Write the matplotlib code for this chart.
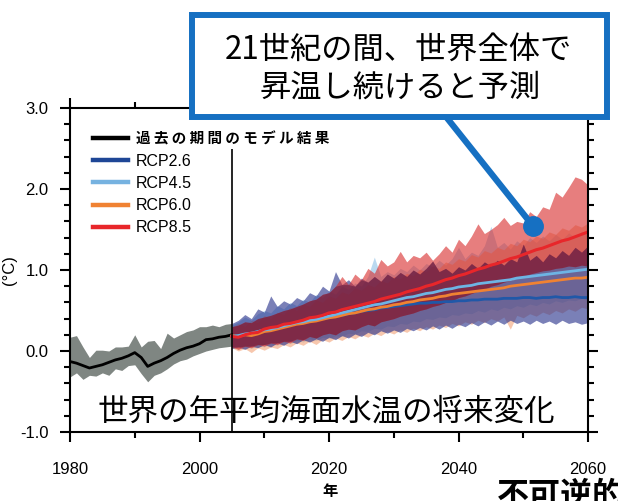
import matplotlib
matplotlib.use('Agg')
import matplotlib.pyplot as plt
import numpy as np
from matplotlib.lines import Line2D
from matplotlib.patches import Rectangle
from matplotlib.ticker import MultipleLocator, FormatStrFormatter
from matplotlib.font_manager import FontProperties

plt.rcParams['font.family'] = ['Liberation Sans', 'Noto Sans CJK JP', 'DejaVu Sans']
JP = ['Noto Sans CJK JP', 'DejaVu Sans']

# 過去の期間（モデル結果）
hist_years = list(range(1980, 2006))
hist_mean = [-0.13, -0.15, -0.18, -0.21, -0.19, -0.17, -0.14, -0.11, -0.09, -0.06,
             -0.02, -0.08, -0.19, -0.15, -0.12, -0.08, -0.03, 0.01, 0.04, 0.06,
             0.09, 0.14, 0.15, 0.17, 0.18, 0.20]
hist_high = [0.17, 0.19, 0.05, -0.08, 0.01, 0.01, 0.00, 0.05, 0.05, 0.06,
             0.20, 0.05, 0.12, 0.13, 0.03, 0.22, 0.16, 0.20, 0.24, 0.26,
             0.30, 0.30, 0.32, 0.30, 0.33, 0.34]
hist_low = [-0.32, -0.27, -0.35, -0.30, -0.31, -0.27, -0.30, -0.22, -0.24, -0.18,
            -0.17, -0.28, -0.38, -0.30, -0.27, -0.22, -0.16, -0.12, -0.10, -0.06,
            -0.03, 0.00, 0.02, 0.04, 0.05, 0.06]

# 将来予測 2005-2060
proj_years = list(range(2005, 2061))

rcp26_mean = [0.18, 0.19, 0.20, 0.22, 0.24, 0.26, 0.27, 0.29, 0.31, 0.32,
              0.34, 0.35, 0.37, 0.38, 0.40, 0.41, 0.43, 0.44, 0.46, 0.47,
              0.49, 0.50, 0.51, 0.53, 0.54, 0.55, 0.56, 0.57, 0.58, 0.59,
              0.59, 0.60, 0.60, 0.61, 0.61, 0.62, 0.62, 0.63, 0.63, 0.64,
              0.64, 0.64, 0.65, 0.65, 0.65, 0.66, 0.66, 0.65, 0.66, 0.66,
              0.67, 0.66, 0.66, 0.67, 0.66, 0.66]
rcp26_high = [0.34, 0.38, 0.45, 0.40, 0.52, 0.48, 0.68, 0.55, 0.62, 0.58,
              0.66, 0.62, 0.72, 0.68, 0.80, 0.74, 0.98, 0.82, 0.88, 0.80,
              0.90, 0.85, 0.92, 0.86, 0.95, 0.90, 0.97, 0.92, 1.00, 0.95,
              1.02, 1.11, 0.98, 1.02, 0.96, 1.04, 1.00, 1.08, 1.02, 1.10,
              1.05, 1.12, 1.06, 1.14, 1.10, 1.32, 1.12, 1.18, 1.10, 1.20,
              1.15, 1.24, 1.18, 1.28, 1.22, 1.30]
rcp26_low = [0.03, 0.05, 0.02, 0.06, 0.04, 0.08, 0.05, 0.10, 0.07, 0.12,
             0.09, 0.14, 0.11, 0.15, 0.12, 0.17, 0.14, 0.19, 0.16, 0.21,
             0.18, 0.23, 0.20, 0.25, 0.22, 0.26, 0.23, 0.28, 0.25, 0.29,
             0.26, 0.31, 0.27, 0.32, 0.28, 0.33, 0.30, 0.35, 0.31, 0.36,
             0.32, 0.37, 0.33, 0.38, 0.34, 0.37, 0.33, 0.38, 0.34, 0.37,
             0.33, 0.38, 0.34, 0.36, 0.33, 0.35]

rcp45_mean = [0.18, 0.19, 0.21, 0.22, 0.24, 0.26, 0.27, 0.29, 0.31, 0.33,
              0.35, 0.36, 0.38, 0.39, 0.41, 0.43, 0.45, 0.47, 0.49, 0.51,
              0.53, 0.55, 0.57, 0.58, 0.60, 0.62, 0.64, 0.66, 0.67, 0.69,
              0.71, 0.72, 0.74, 0.76, 0.77, 0.79, 0.80, 0.81, 0.83, 0.84,
              0.85, 0.86, 0.87, 0.88, 0.90, 0.91, 0.92, 0.93, 0.94, 0.95,
              0.96, 0.97, 0.98, 0.99, 1.00, 1.01]
rcp45_high = [0.32, 0.36, 0.42, 0.38, 0.46, 0.50, 0.47, 0.56, 0.52, 0.60,
              0.56, 0.64, 0.60, 0.70, 0.66, 0.74, 0.70, 0.80, 0.76, 0.84,
              0.80, 0.92, 1.16, 0.92, 0.98, 0.94, 1.02, 0.98, 1.06, 1.00,
              1.08, 1.04, 1.12, 1.06, 1.14, 1.28, 1.14, 1.22, 1.18, 1.30,
              1.54, 1.28, 1.34, 1.26, 1.36, 1.30, 1.40, 1.34, 1.42, 1.36,
              1.44, 1.38, 1.46, 1.40, 1.48, 1.44]
rcp45_low = [0.05, 0.02, 0.06, 0.03, 0.07, 0.05, 0.09, 0.07, 0.11, 0.09,
             0.13, 0.11, 0.15, 0.13, 0.17, 0.15, 0.19, 0.18, 0.22, 0.21,
             0.25, 0.24, 0.28, 0.27, 0.31, 0.30, 0.34, 0.33, 0.37, 0.36,
             0.40, 0.39, 0.42, 0.41, 0.45, 0.44, 0.47, 0.46, 0.50, 0.48,
             0.52, 0.50, 0.54, 0.52, 0.56, 0.54, 0.58, 0.56, 0.60, 0.58,
             0.62, 0.60, 0.63, 0.62, 0.65, 0.63]

rcp60_mean = [0.19, 0.18, 0.20, 0.19, 0.21, 0.24, 0.25, 0.27, 0.29, 0.31,
              0.33, 0.34, 0.36, 0.37, 0.39, 0.41, 0.42, 0.44, 0.46, 0.47,
              0.49, 0.51, 0.52, 0.54, 0.55, 0.57, 0.58, 0.60, 0.61, 0.63,
              0.64, 0.65, 0.67, 0.68, 0.70, 0.71, 0.72, 0.73, 0.74, 0.75,
              0.76, 0.77, 0.78, 0.80, 0.81, 0.82, 0.83, 0.84, 0.85, 0.86,
              0.87, 0.88, 0.89, 0.90, 0.90, 0.91]
rcp60_high = [0.30, 0.34, 0.30, 0.38, 0.35, 0.44, 0.40, 0.48, 0.45, 0.54,
              0.50, 0.58, 0.55, 0.63, 0.60, 0.68, 0.65, 0.73, 0.70, 0.78,
              0.75, 0.82, 0.79, 0.87, 0.84, 0.92, 0.89, 0.96, 0.93, 1.01,
              0.98, 1.05, 1.02, 1.10, 1.07, 1.14, 1.11, 1.19, 1.16, 1.24,
              1.21, 1.28, 1.25, 1.33, 1.30, 1.38, 1.35, 1.42, 1.39, 1.47,
              1.44, 1.52, 1.49, 1.56, 1.53, 1.58]
rcp60_low = [0.04, 0.00, 0.03, -0.02, 0.04, 0.01, 0.05, 0.03, 0.08, 0.05,
             0.10, 0.07, 0.12, 0.08, 0.14, 0.11, 0.16, 0.13, 0.18, 0.15,
             0.20, 0.17, 0.22, 0.19, 0.24, 0.21, 0.26, 0.23, 0.28, 0.25,
             0.30, 0.27, 0.32, 0.29, 0.34, 0.31, 0.36, 0.33, 0.38, 0.35,
             0.40, 0.37, 0.42, 0.27, 0.44, 0.41, 0.46, 0.43, 0.48, 0.45,
             0.50, 0.47, 0.52, 0.49, 0.54, 0.52]

rcp85_mean = [0.18, 0.17, 0.20, 0.22, 0.23, 0.27, 0.29, 0.30, 0.33, 0.34,
              0.36, 0.38, 0.41, 0.42, 0.44, 0.47, 0.48, 0.51, 0.53, 0.55,
              0.57, 0.59, 0.61, 0.64, 0.66, 0.68, 0.70, 0.73, 0.75, 0.77,
              0.80, 0.82, 0.85, 0.88, 0.90, 0.93, 0.95, 0.98, 1.01, 1.03,
              1.06, 1.08, 1.11, 1.14, 1.16, 1.19, 1.22, 1.25, 1.27, 1.30,
              1.33, 1.36, 1.38, 1.41, 1.44, 1.47]
rcp85_high = [0.30, 0.32, 0.36, 0.35, 0.40, 0.42, 0.44, 0.47, 0.50, 0.52,
              0.55, 0.58, 0.62, 0.64, 0.70, 0.72, 0.80, 0.92, 0.82, 0.95,
              0.88, 1.02, 0.96, 1.13, 1.05, 1.10, 1.23, 1.10, 1.18, 1.15,
              1.22, 1.12, 1.20, 1.30, 1.22, 1.38, 1.30, 1.42, 1.57, 1.45,
              1.50, 1.56, 1.65, 1.55, 1.60, 1.58, 1.72, 1.66, 1.78, 1.75,
              1.96, 1.90, 2.02, 2.15, 2.12, 2.05]
rcp85_low = [0.05, 0.02, 0.06, 0.04, 0.08, 0.06, 0.10, 0.08, 0.12, 0.10,
             0.15, 0.13, 0.18, 0.16, 0.20, 0.22, 0.20, 0.25, 0.27, 0.26,
             0.30, 0.33, 0.31, 0.36, 0.38, 0.40, 0.43, 0.45, 0.47, 0.50,
             0.52, 0.55, 0.57, 0.60, 0.62, 0.66, 0.68, 0.71, 0.74, 0.76,
             0.80, 0.82, 0.85, 0.87, 0.90, 0.92, 0.95, 0.97, 0.99, 1.00,
             1.02, 1.03, 1.05, 1.04, 1.06, 1.05]

labels = ['過 去 の 期 間 の モ デ ル 結 果', 'RCP2.6', 'RCP4.5', 'RCP6.0', 'RCP8.5']
title = '世界の年平均海面水温の将来変化'
callout = ['21世紀の間、世界全体で', '昇温し続けると予測']

BLUE = '#1670c2'
W, H = 618, 501


def fx(px):
    return px / W


def fy(py):
    return 1 - py / H


fig = plt.figure(figsize=(W / 100, H / 100), dpi=100)
ax = fig.add_axes([fx(70), fy(432), 518 / W, 324 / H])

# 予測の幅（下から順に重ねる）
ax.fill_between(proj_years, rcp45_low, rcp45_high, color='#8cc0e6', alpha=0.6, lw=0)
ax.fill_between(proj_years, rcp60_low, rcp60_high, color='#f29a6b', alpha=0.55, lw=0)
ax.fill_between(proj_years, rcp26_low, rcp26_high, color='#28328c', alpha=0.62, lw=0)
ax.fill_between(proj_years, rcp85_low, rcp85_high, color='#d72828', alpha=0.6, lw=0)
# RCP2.6とRCP8.5が重なる部分を濃くする
lo = np.maximum(rcp85_low, rcp26_low)
hi = np.minimum(rcp85_high, rcp26_high)
ax.fill_between(proj_years, lo, hi, where=hi > lo, interpolate=True,
                color='#4a1038', alpha=0.45, lw=0)

ax.fill_between(hist_years, hist_low, hist_high, color='#7f8682', lw=0)
ax.plot(hist_years, hist_mean, color='black', lw=2)

ax.plot(proj_years, rcp26_mean, color='#2058a8', lw=2)
ax.plot(proj_years, rcp60_mean, color='#f08232', lw=2)
ax.plot(proj_years, rcp45_mean, color='#6db4e4', lw=2)
ax.plot(proj_years, rcp85_mean, color='#e8262a', lw=2.2)

ax.vlines(2005, -1, 2.5, color='black', lw=1.2)

ax.set_xlim(1980, 2060)
ax.set_ylim(-1, 3)
ax.xaxis.set_major_locator(MultipleLocator(20))
ax.xaxis.set_minor_locator(MultipleLocator(10))
ax.yaxis.set_major_locator(MultipleLocator(1))
ax.yaxis.set_minor_locator(MultipleLocator(0.2))
ax.yaxis.set_major_formatter(FormatStrFormatter('%.1f'))
ax.tick_params(which='both', direction='out', top=True, right=True, width=1.5)
ax.tick_params(which='major', length=7.5, labelsize=12)
ax.tick_params(which='minor', length=4)
ax.tick_params(axis='x', pad=14)
ax.tick_params(axis='y', pad=8)
for s in ax.spines.values():
    s.set_linewidth(1.5)

handles = [Line2D([], [], color=c, lw=3.2)
           for c in ['black', '#1e4696', '#76b2e0', '#f08232', '#e8262a']]
leg = ax.legend(handles, labels, loc='upper left', bbox_to_anchor=(0.045, 0.93),
                frameon=False, fontsize=11.5, handlelength=2.2, handletextpad=0.45,
                labelspacing=0.45, borderaxespad=0, borderpad=0)
leg.get_texts()[0].set_fontproperties(FontProperties(family=JP, weight='bold', size=10.5))

ax.text(0.494, 0.06, title, transform=ax.transAxes, ha='center', va='center',
        fontsize=22, family=JP)

fig.text(fx(330), fy(491), '年', ha='center', va='center', fontsize=11,
         fontweight='bold', family=JP)
fig.text(fx(10), fy(270), '(°C)', rotation=90, ha='center', va='center', fontsize=12)

# 吹き出し
fig.add_artist(Line2D([fx(447), fx(533)], [fy(118), fy(226)], color=BLUE, lw=4.5,
                      solid_capstyle='butt', zorder=4))
fig.add_artist(Line2D([fx(533)], [fy(226)], marker='o', markersize=14, color=BLUE,
                      zorder=4))
fig.add_artist(Rectangle((fx(192), fy(117)), (607 - 192) / W, (117 - 15) / H,
                         transform=fig.transFigure, facecolor='white',
                         edgecolor=BLUE, lw=4.3, zorder=5))
fig.text(fx(398), fy(50), callout[0], ha='center', va='center', fontsize=22.5,
         family=JP, zorder=6)
fig.text(fx(400), fy(88), callout[1], ha='center', va='center', fontsize=22.5,
         family=JP, zorder=6)

fig.text(fx(497), fy(480), '不可逆的', ha='left', va='top', fontsize=23,
         fontweight='bold', family=JP)

fig.savefig('out.png', dpi=100)
